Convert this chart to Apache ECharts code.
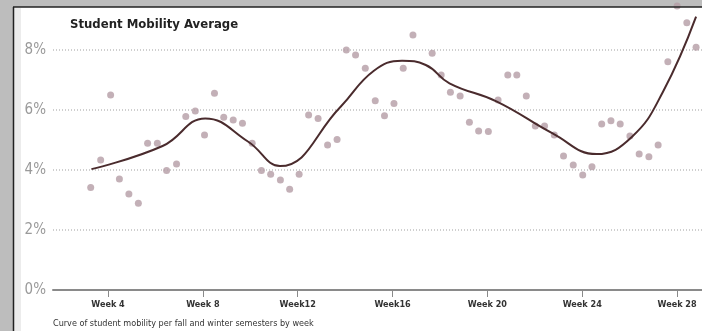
<!DOCTYPE html>
<html>
<head>
<meta charset="utf-8">
<script src="https://cdn.jsdelivr.net/npm/echarts@6/dist/echarts.min.js"></script>
<style>
html,body{margin:0;padding:0;background:#bdbdbd;}
#c{width:702px;height:331px;}
</style>
</head>
<body>
<div id="c"></div>
<script>
// Tick labels
var weekTicks = [4, 8, 12, 16, 20, 24, 28];
var weekTickLabels = ['Week 4', 'Week 8', 'Week12', 'Week16', 'Week 20', 'Week 24', 'Week 28'];
var pctTicks = [0, 2, 4, 6, 8];

// Observed points (week, % mobility)
var pointWeeks = [3.27, 3.69, 4.11, 4.48, 4.88, 5.28, 5.67, 6.08, 6.47, 6.89, 7.28, 7.68, 8.07, 8.49,
  8.88, 9.28, 9.67, 10.08, 10.47, 10.86, 11.27, 11.66, 12.06, 12.46, 12.86, 13.26, 13.66,
  14.05, 14.44, 14.85, 15.27, 15.66, 16.06, 16.45, 16.86, 17.67, 18.05, 18.44, 18.85, 19.24, 19.63,
  20.04, 20.45, 20.86, 21.24, 21.64, 22.02, 22.41, 22.82, 23.21, 23.62, 24.02, 24.41, 24.82,
  25.21, 25.6, 26.01, 26.4, 26.81, 27.2, 27.61, 28.0, 28.41, 28.8];
var pointValues = [3.42, 4.33, 6.5, 3.7, 3.2, 2.89, 4.89, 4.89, 3.98, 4.2, 5.78, 5.97, 5.17, 6.56,
  5.76, 5.67, 5.56, 4.89, 3.98, 3.86, 3.67, 3.36, 3.86, 5.83, 5.72, 4.83, 5.02,
  8.0, 7.83, 7.39, 6.31, 5.81, 6.22, 7.39, 8.5, 7.89, 7.17, 6.59, 6.47, 5.59, 5.3,
  5.28, 6.33, 7.17, 7.17, 6.47, 5.47, 5.47, 5.17, 4.47, 4.17, 3.83, 4.11, 5.53,
  5.64, 5.53, 5.13, 4.53, 4.44, 4.83, 7.61, 9.47, 8.91, 8.09];

// Average curve (week, %)
var curveWeeks = [3.3, 6.3, 8.1, 9.9, 11.25, 13.8, 15.2, 16.4, 17.4, 18.4, 20.4, 22.75, 24.6, 26.1, 27.4, 28.8];
var curveValues = [4.03, 4.8, 5.72, 4.95, 4.13, 6.1, 7.3, 7.64, 7.5, 6.89, 6.28, 5.22, 4.53, 5.11, 6.6, 9.11];

var title = 'Student Mobility Average';
var subtitle = 'Curve of student mobility per fall and winter semesters by week';

var narrow = '"Liberation Sans Narrow", "DejaVu Sans Condensed", sans-serif';

function zip(a, b) { return a.map(function (v, i) { return [v, b[i]]; }); }

var chart = echarts.init(document.getElementById('c'), null, {renderer: 'canvas'});
chart.setOption({
  backgroundColor: '#bdbdbd',
  animation: false,
  title: [
    {text: title, left: 70, top: 18, padding: 0, textStyle: {fontFamily: narrow, fontWeight: 'bold', fontSize: 13, color: '#222'}},
    {text: subtitle, left: 53, top: 319, padding: 0, textStyle: {fontFamily: narrow, fontWeight: 'normal', fontSize: 9, color: '#333'}}
  ],
  graphic: [
    {type: 'rect', z: -10, shape: {x: 13, y: 7, width: 689, height: 324}, style: {fill: '#ffffff'}, silent: true},
    {type: 'rect', z: -9, shape: {x: 14, y: 8, width: 7, height: 323}, style: {fill: '#ececec'}, silent: true},
    {type: 'line', z: 100, shape: {x1: 13.5, y1: 7, x2: 13.5, y2: 331}, style: {stroke: '#222', lineWidth: 1.5}, silent: true},
    {type: 'line', z: 100, shape: {x1: 13, y1: 7, x2: 702, y2: 7}, style: {stroke: '#222', lineWidth: 1.5}, silent: true}
  ],
  grid: {left: 53, right: 0, top: 5, bottom: 41, containLabel: false},
  xAxis: {
    type: 'value', min: 1.68, max: 29.05,
    axisLine: {show: true, lineStyle: {color: '#8a8a8a', width: 2}},
    axisTick: {show: true, customValues: weekTicks, length: 7, lineStyle: {color: '#8a8a8a', width: 1}},
    axisLabel: {
      customValues: weekTicks, margin: 10,
      formatter: function (v) { var i = weekTicks.indexOf(Math.round(v)); return i >= 0 ? weekTickLabels[i] : ''; },
      fontFamily: narrow, fontWeight: 'bold', fontSize: 9, color: '#333'
    },
    splitLine: {show: false}
  },
  yAxis: {
    type: 'value', min: 0, max: 9.5,
    axisLine: {show: false},
    axisTick: {show: false, customValues: pctTicks},
    axisLabel: {customValues: pctTicks, formatter: '{value}%', margin: 7, fontFamily: narrow, fontSize: 15, color: '#9a9a9a'},
    splitLine: {show: true, lineStyle: {color: '#cfcfcf', width: 2, type: [1, 2]}}
  },
  series: [
    {
      type: 'scatter', data: zip(pointWeeks, pointValues), symbolSize: 7, clip: true,
      itemStyle: {color: '#b49ca5'}, z: 2
    },
    {
      type: 'line', data: zip(curveWeeks, curveValues), smooth: 0.45, showSymbol: false, symbol: 'none',
      lineStyle: {color: '#4a2b2d', width: 2}, z: 3, clip: false
    }
  ]
});
</script>
</body>
</html>
